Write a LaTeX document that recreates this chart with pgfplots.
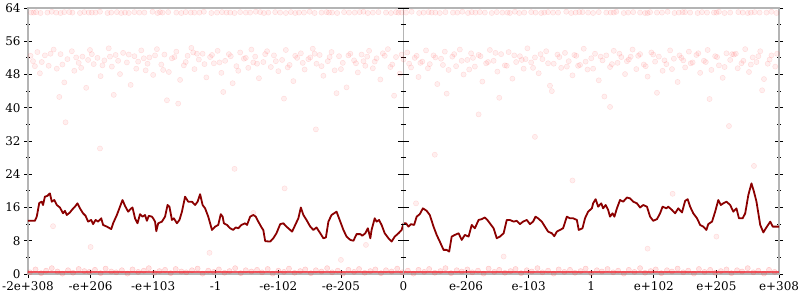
\documentclass[border=0pt]{standalone}
\usepackage{pgfplots}
\pgfplotsset{compat=1.18}
\usepackage{fontspec}
\setmainfont{DejaVu Serif}
\definecolor{linecol}{HTML}{8B0000}
\definecolor{axgray}{HTML}{B4B4B4}
\definecolor{dotred}{HTML}{FF2020}
\definecolor{bandred}{HTML}{E8303C}
\begin{document}
\begin{tikzpicture}
\useasboundingbox (-28bp,-26bp) rectangle (772bp,274bp);
\begin{axis}[
  scale only axis, width=751bp, height=266bp,
  xmin=0, xmax=12, ymin=0, ymax=64,
  xtick={0,1,2,3,4,5,6,7,8,9,10,11,12},
  xticklabels={-2e+308,-e+206,-e+103,-1,-e-102,-e-205,0,e-206,e-103,1,e+102,e+205,e+308},
  ytick={0,8,16,24,32,40,48,56,64}, minor y tick num=1,
  xtick pos=bottom, ytick pos=both,
  tick align=center,
  major tick length=8bp, minor tick length=4bp,
  axis line style={axgray, line width=1.5bp},
  tick style={black, line width=0.8bp},
  tick label style={font=\fontsize{12}{14}\selectfont},
  /pgf/number format/assume math mode=true,
  dots/.style={only marks, mark=*, mark size=2.6bp,
    mark options={draw=dotred, fill=dotred, draw opacity=0.14, fill opacity=0.07}},
  bdots/.style={only marks, mark=*, mark size=2.6bp,
    mark options={draw=dotred, fill=dotred, draw opacity=0.22, fill opacity=0.12}},
]
% top band
\addplot[dots] coordinates {
(0.05,62.9) (0.13,63.0) (0.2,62.8) (0.31,62.9) (0.38,63.1) (0.45,62.9) (0.52,62.8) (0.66,63.0) (0.71,62.9) (0.83,62.8)
(0.9,63.0) (0.97,62.9) (1.08,62.9) (1.15,63.1) (1.27,62.8) (1.33,62.9) (1.42,63.0) (1.55,62.9) (1.61,62.8) (1.7,63.0)
(1.78,62.9) (1.86,62.9) (1.99,63.1) (2.07,62.8) (2.15,62.9) (2.24,63.0) (2.37,62.9) (2.45,62.8) (2.52,63.0) (2.6,62.9)
(2.74,62.9) (2.81,63.1) (2.93,62.8) (3.02,62.9) (3.1,63.0) (3.17,62.9) (3.3,62.8) (3.39,63.0) (3.48,62.9) (3.55,62.9)
(3.64,63.1) (3.77,62.8) (3.84,62.9) (3.95,63.0) (4.03,62.9) (4.12,62.8) (4.2,63.0) (4.33,62.9) (4.41,62.9) (4.5,63.1)
(4.58,62.8) (4.69,62.9) (4.77,63.0) (4.86,62.9) (4.94,62.8) (5.05,63.0) (5.13,62.9) (5.22,62.9) (5.36,63.1) (5.43,62.8)
(5.51,62.9) (5.6,63.0) (5.72,62.9) (5.8,62.8) (5.88,63.0) (5.97,62.9) (6.04,62.9) (6.13,63.1) (6.25,62.8) (6.32,62.9)
(6.4,63.0) (6.51,62.9) (6.58,62.8) (6.67,63.0) (6.79,62.9) (6.86,62.9) (6.94,63.1) (7.03,62.8) (7.15,62.9) (7.22,63.0)
(7.3,62.9) (7.41,62.8) (7.49,63.0) (7.58,62.9) (7.66,62.9) (7.78,63.1) (7.85,62.8) (7.93,62.9) (8.04,63.0) (8.11,62.9)
(8.2,62.8) (8.31,63.0) (8.39,62.9) (8.47,62.9) (8.6,63.1) (8.68,62.8) (8.75,62.9) (8.86,63.0) (8.95,62.9) (9.03,62.8)
(9.12,63.0) (9.24,62.9) (9.31,62.9) (9.4,63.1) (9.52,62.8) (9.59,62.9) (9.67,63.0) (9.78,62.9) (9.86,62.8) (9.94,63.0)
(10.05,62.9) (10.13,62.9) (10.22,63.1) (10.33,62.8) (10.4,62.9) (10.5,63.0) (10.58,62.9) (10.7,62.8) (10.77,63.0) (10.85,62.9)
(10.96,62.9) (11.04,63.1) (11.13,62.8) (11.22,62.9) (11.35,63.0) (11.42,62.9) (11.5,62.8) (11.61,63.0) (11.69,62.9) (11.8,62.9)
(11.88,63.1) (11.96,62.8)
(0.09,62.9) (0.58,63.0) (1.02,62.9) (1.49,62.8) (2.11,63.0) (2.66,62.9) (3.23,62.9) (3.71,63.0) (4.27,62.8) (4.81,62.9)
(5.3,63.0) (5.92,62.9) (6.45,62.9) (7.09,63.0) (7.7,62.8) (8.25,62.9) (8.81,63.0) (9.36,62.9) (9.9,62.8) (10.46,63.0)
(11.0,62.9) (11.55,62.9)
};
% cloud
\addplot[dots] coordinates {
(0.08,51.2) (0.15,53.4) (0.19,48.3) (0.27,52.6) (0.33,50.1) (0.41,54.0) (0.46,49.4) (0.52,52.9) (0.58,46.1) (0.63,51.7)
(0.7,53.6) (0.74,48.9) (0.81,50.8) (0.87,52.3) (0.93,44.8) (0.99,53.9) (1.05,50.5) (1.11,52.0) (1.16,47.6) (1.22,51.4)
(1.29,54.3) (1.34,49.9) (1.4,52.7) (1.47,48.1) (1.52,53.2) (1.58,50.9) (1.64,45.5) (1.7,52.4) (1.76,51.1) (1.81,53.8)
(1.88,49.0) (1.94,52.1) (2.0,47.9) (2.06,54.1) (2.13,50.4) (2.18,52.8) (2.25,48.6) (2.3,51.9) (2.37,53.5) (2.43,46.7)
(2.49,50.2) (2.55,52.5) (2.61,54.4) (2.66,49.3) (2.73,51.6) (2.79,53.0) (2.85,47.3) (2.91,52.2) (2.97,50.7) (3.03,53.7)
(3.09,48.4) (3.15,51.3) (3.21,52.9) (3.27,45.9) (3.33,50.0) (3.39,53.3) (3.45,51.8) (3.52,49.6) (3.57,54.0) (3.63,52.3)
(3.69,47.1) (3.76,51.0) (3.82,53.6) (3.88,49.8) (3.93,52.6) (4.0,48.8) (4.06,51.5) (4.12,53.9) (4.18,50.3) (4.24,46.4)
(4.3,52.0) (4.36,53.1) (4.42,49.2) (4.48,51.7) (4.55,54.2) (4.61,50.6) (4.66,52.7) (4.72,47.7) (4.79,51.2) (4.85,53.4)
(4.9,49.0) (4.97,52.4) (5.03,50.8) (5.09,44.9) (5.15,53.0) (5.21,51.4) (5.27,48.5) (5.33,52.8) (5.39,50.1) (5.45,53.7)
(5.51,49.5) (5.57,51.9) (5.63,46.8) (5.7,52.5) (5.75,54.1) (5.82,50.4) (5.88,52.2) (5.94,48.2) (6.0,51.6)
(6.06,53.3) (6.12,49.7) (6.18,52.0) (6.24,47.4) (6.3,51.1) (6.36,53.8) (6.42,50.5) (6.48,52.6) (6.54,45.7) (6.6,51.8)
(6.66,53.5) (6.72,49.1) (6.78,52.3) (6.84,50.0) (6.9,54.0) (6.96,48.0) (7.02,51.5) (7.08,53.1) (7.14,49.9) (7.2,52.7)
(7.26,46.3) (7.32,50.7) (7.38,53.9) (7.44,51.3) (7.5,48.7) (7.56,52.9) (7.62,50.2) (7.68,53.4) (7.74,47.0) (7.8,51.0)
(7.86,52.4) (7.92,49.4) (7.98,54.3) (8.04,50.9) (8.1,52.1) (8.16,48.3) (8.22,51.7) (8.28,53.6) (8.34,45.3) (8.4,50.6)
(8.46,52.8) (8.52,49.6) (8.58,53.2) (8.64,51.2) (8.7,47.8) (8.76,52.5) (8.82,50.3) (8.88,54.2) (8.94,49.2) (9.0,51.9)
(9.06,53.0) (9.12,46.6) (9.18,51.4) (9.24,52.6) (9.3,49.8) (9.36,53.7) (9.42,50.8) (9.48,52.2) (9.54,48.1) (9.6,51.6)
(9.66,54.0) (9.72,49.3) (9.78,52.9) (9.84,50.4) (9.9,47.5) (9.96,53.3) (10.02,51.1) (10.08,52.3) (10.14,48.9) (10.2,50.5)
(10.26,53.8) (10.32,51.8) (10.38,46.2) (10.44,52.0) (10.5,49.7) (10.56,53.5) (10.62,50.9) (10.68,52.7) (10.74,48.4) (10.8,51.3)
(10.86,53.9) (10.92,49.1) (10.98,52.4) (11.04,50.2) (11.1,47.2) (11.16,53.1) (11.22,51.5) (11.28,52.8) (11.34,49.5) (11.4,50.7)
(11.46,54.1) (11.52,48.6) (11.58,52.1) (11.64,51.0) (11.7,53.6) (11.76,46.9) (11.82,50.6) (11.88,52.6) (11.94,49.9)
(0.11,50.0) (0.5,42.6) (0.96,51.5) (1.37,43.1) (1.91,50.6) (2.22,41.8) (2.7,53.0) (3.12,43.8) (3.6,50.9) (4.09,42.2)
(4.51,52.1) (4.93,43.5) (5.36,51.2) (5.85,42.9) (6.27,50.8) (6.69,43.4) (7.11,52.0) (7.53,42.4) (7.95,51.7) (8.37,44.0)
(8.79,50.1) (9.21,42.7) (9.63,52.3) (10.05,43.6) (10.47,51.4) (10.89,42.1) (11.31,53.0) (11.73,44.2)
(0.04,52.5) (0.22,51.0) (0.36,53.0) (0.55,50.4) (0.77,52.1) (0.85,49.6) (1.02,52.9) (1.19,50.2) (1.31,52.3) (1.44,51.3)
(1.61,52.8) (1.73,49.4) (1.85,51.9) (2.03,52.6) (2.16,49.1) (2.34,52.2) (2.52,51.0) (2.64,53.3) (2.82,50.5) (2.94,52.7)
(3.06,50.9) (3.24,52.4) (3.36,48.9) (3.48,52.0) (3.66,50.6) (3.79,52.9) (3.96,51.2) (4.15,49.7) (4.27,52.5) (4.39,50.8)
(4.58,53.0) (4.69,50.0) (4.82,52.2) (5.0,49.3) (5.12,52.6) (5.24,50.7) (5.42,52.3) (5.54,51.1) (5.67,53.1) (5.79,49.8)
(5.97,52.8) (6.09,50.6) (6.21,52.5) (6.39,49.5) (6.51,52.1) (6.63,50.3) (6.81,52.9) (6.93,51.3) (7.05,49.2) (7.23,52.4)
(7.35,51.0) (7.47,53.2) (7.65,50.1) (7.77,52.6) (7.89,51.5) (8.07,49.6) (8.19,52.9) (8.31,50.7) (8.49,52.2) (8.61,49.9)
(8.73,52.7) (8.91,51.1) (9.03,49.4) (9.15,52.3) (9.33,50.5) (9.45,53.0) (9.57,51.2) (9.75,52.5) (9.87,50.0) (9.99,52.8)
(10.17,51.4) (10.29,49.3) (10.41,52.6) (10.59,50.7) (10.71,53.1) (10.83,51.0) (11.01,52.2) (11.13,49.8) (11.25,52.9) (11.43,51.3)
(11.55,50.4) (11.67,52.4) (11.85,51.6) (11.97,53.0)
};
% scattered middle
\addplot[dots] coordinates {
(0.6,36.5) (1.15,30.2) (2.4,41.0) (3.3,25.3) (4.6,34.8) (5.4,7.0) (6.5,28.7) (7.2,38.4) (8.7,22.5) (9.3,40.2)
(10.3,19.3) (11.2,35.6) (11.6,26.0) (1.0,6.5) (2.9,5.1) (5.0,3.4) (7.6,4.2) (9.9,6.1) (4.1,20.6) (8.1,33.0)
(0.4,11.5) (11.0,9.0) (6.2,17.0) (3.6,14.7)
};
% bottom band
\addplot[bdots] coordinates {
(0.03,0.4) (0.12,1.1) (0.21,0.2) (0.29,0.8) (0.38,1.4) (0.47,0.6) (0.55,0.1) (0.64,0.9) (0.72,0.3) (0.81,1.2)
(0.9,0.7) (0.98,0.5) (1.07,1.0) (1.16,0.2) (1.24,1.3) (1.33,0.6) (1.41,0.4) (1.5,0.9) (1.59,0.1) (1.67,1.1)
(1.76,0.5) (1.85,0.8) (1.93,1.4) (2.02,0.3) (2.1,0.7) (2.19,1.0) (2.28,0.2) (2.36,1.2) (2.45,0.6) (2.53,0.4)
(2.62,0.9) (2.71,1.3) (2.79,0.1) (2.88,0.8) (2.97,0.5) (3.05,1.1) (3.14,0.3) (3.22,0.7) (3.31,1.4) (3.4,0.2)
(3.48,0.9) (3.57,0.6) (3.66,1.0) (3.74,0.4) (3.83,1.2) (3.91,0.1) (4.0,0.8) (4.09,0.5) (4.17,1.3) (4.26,0.3)
(4.35,0.7) (4.43,1.1) (4.52,0.2) (4.6,0.9) (4.69,0.6) (4.78,1.4) (4.86,0.4) (4.95,0.8) (5.03,0.1) (5.12,1.0)
(5.21,0.5) (5.29,1.2) (5.38,0.3) (5.47,0.7) (5.55,1.1) (5.64,0.2) (5.72,0.9) (5.81,0.6) (5.9,1.3) (5.98,0.4)
(6.07,0.8) (6.16,0.1) (6.24,1.0) (6.33,0.5) (6.41,1.2) (6.5,0.3) (6.59,0.7) (6.67,1.4) (6.76,0.2) (6.85,0.9)
(6.93,0.6) (7.02,1.1) (7.1,0.4) (7.19,0.8) (7.28,0.1) (7.36,1.3) (7.45,0.5) (7.53,1.0) (7.62,0.3) (7.71,0.7)
(7.79,1.2) (7.88,0.2) (7.97,0.9) (8.05,0.6) (8.14,1.4) (8.22,0.4) (8.31,0.8) (8.4,0.1) (8.48,1.1) (8.57,0.5)
(8.66,1.0) (8.74,0.3) (8.83,0.7) (8.91,1.3) (9.0,0.2) (9.09,0.9) (9.17,0.6) (9.26,1.2) (9.35,0.4) (9.43,0.8)
(9.52,0.1) (9.6,1.0) (9.69,0.5) (9.78,1.4) (9.86,0.3) (9.95,0.7) (10.03,1.1) (10.12,0.2) (10.21,0.9) (10.29,0.6)
(10.38,1.3) (10.47,0.4) (10.55,0.8) (10.64,0.1) (10.72,1.2) (10.81,0.5) (10.9,1.0) (10.98,0.3) (11.07,0.7) (11.16,1.1)
(11.24,0.2) (11.33,0.9) (11.41,0.6) (11.5,1.4) (11.59,0.4) (11.67,0.8) (11.76,0.1) (11.84,1.0) (11.93,0.5)
};
\addplot[bandred, opacity=0.8, line width=2.5bp] coordinates {(0,0.45) (12,0.45)};
% main line
\addplot[linecol, line width=1.8bp, line join=round] coordinates {
(0,12.8) (0.11,12.8) (0.14,13.8) (0.18,17.1) (0.22,17.4) (0.24,16.6) (0.27,18.6) (0.31,18.8) (0.35,19.4) (0.38,17.4)
(0.42,17.8) (0.46,16.6) (0.51,16.0) (0.56,14.6) (0.59,15.2) (0.62,14.2) (0.67,14.8) (0.70,15.4) (0.75,16.2) (0.79,17.0)
(0.83,15.8) (0.88,14.6) (0.92,14.0) (0.96,12.6) (1.01,13.0) (1.04,12.0) (1.08,13.0) (1.12,12.6) (1.17,13.4) (1.20,11.8)
(1.26,11.4) (1.33,10.8) (1.36,12.2) (1.42,14.2) (1.47,16.2) (1.51,17.8) (1.55,16.4) (1.60,15.0) (1.65,15.8) (1.67,16.0)
(1.71,13.4) (1.75,12.2) (1.79,14.4) (1.83,13.8) (1.87,14.2) (1.90,12.8) (1.93,14.0) (1.98,13.8) (2.00,13.4) (2.03,12.6)
(2.05,10.3) (2.08,12.2) (2.14,12.6) (2.19,13.8) (2.23,16.6) (2.26,16.2) (2.30,13.0) (2.33,13.4) (2.38,12.2) (2.42,13.0)
(2.46,15.0) (2.51,18.6) (2.56,17.4) (2.62,17.4) (2.67,16.6) (2.71,17.4) (2.75,19.2) (2.79,16.6) (2.83,15.8) (2.88,13.8)
(2.94,10.6) (2.99,11.4) (3.04,11.8) (3.08,14.4) (3.11,13.8) (3.13,12.2) (3.18,11.8) (3.23,11.0) (3.28,10.6) (3.32,11.2)
(3.36,11.0) (3.41,11.8) (3.47,12.2) (3.50,11.8) (3.55,13.8) (3.60,14.2) (3.64,13.8) (3.68,12.6) (3.74,11.0) (3.76,10.6)
(3.79,7.9) (3.87,7.8) (3.92,8.6) (3.97,9.8) (4.03,12.0) (4.08,12.2) (4.13,11.4) (4.19,10.6) (4.22,10.2) (4.27,11.8)
(4.32,13.4) (4.36,16.0) (4.40,14.2) (4.45,13.0) (4.51,11.4) (4.56,10.6) (4.61,11.2) (4.67,9.8) (4.72,8.6) (4.76,8.8)
(4.80,12.6) (4.85,14.2) (4.91,14.8) (4.93,15.0) (4.99,12.6) (5.04,10.6) (5.09,9.0) (5.15,8.2) (5.20,8.0) (5.25,9.6)
(5.31,9.6) (5.34,9.2) (5.39,9.8) (5.43,11.0) (5.47,8.6) (5.49,10.6) (5.54,13.4) (5.57,12.6) (5.61,13.0) (5.65,11.8)
(5.70,9.8) (5.76,8.6) (5.81,7.8) (5.86,9.0) (5.92,9.8) (5.97,10.6) (6.00,12.2) (6.04,12.2) (6.08,11.4) (6.12,12.0)
(6.17,11.8) (6.21,13.8) (6.26,14.4) (6.31,15.8) (6.37,15.2) (6.42,14.2) (6.48,11.4) (6.53,9.4) (6.58,7.8) (6.64,5.8)
(6.69,5.8) (6.73,5.4) (6.77,9.0) (6.82,9.4) (6.88,9.8) (6.93,8.2) (6.98,9.4) (7.04,9.0) (7.09,11.8) (7.14,11.0)
(7.20,13.0) (7.25,13.2) (7.30,13.6) (7.34,13.0) (7.38,12.2) (7.44,11.0) (7.49,8.6) (7.54,9.0) (7.60,9.8) (7.65,13.0)
(7.70,13.0) (7.76,12.6) (7.81,12.8) (7.86,12.0) (7.91,12.6) (7.97,13.0) (8.02,12.0) (8.07,12.6) (8.11,13.8) (8.15,13.4)
(8.21,12.6) (8.26,11.4) (8.31,10.2) (8.37,9.8) (8.41,9.1) (8.45,10.2) (8.50,10.6) (8.55,11.0) (8.61,13.8) (8.66,13.4)
(8.71,13.4) (8.77,13.0) (8.80,10.6) (8.86,11.0) (8.90,13.4) (8.95,15.0) (9.01,15.8) (9.03,17.0) (9.07,18.0) (9.11,16.2)
(9.16,17.0) (9.19,15.8) (9.23,16.6) (9.27,15.4) (9.30,13.8) (9.34,14.6) (9.37,13.8) (9.41,15.8) (9.46,17.8) (9.51,17.4)
(9.57,18.4) (9.62,18.2) (9.67,17.4) (9.73,17.0) (9.78,16.0) (9.83,16.6) (9.89,16.2) (9.94,13.8) (9.99,12.8) (10.05,13.2)
(10.10,14.6) (10.14,16.2) (10.20,15.8) (10.23,16.2) (10.29,15.4) (10.34,14.6) (10.39,15.8) (10.45,14.8) (10.50,17.6) (10.54,18.0)
(10.58,16.2) (10.63,14.6) (10.69,13.4) (10.74,11.8) (10.79,11.4) (10.84,10.6) (10.87,12.0) (10.93,12.6) (10.98,15.0) (11.03,17.8)
(11.07,16.6) (11.11,17.0) (11.16,17.4) (11.22,16.6) (11.27,15.0) (11.32,15.8) (11.36,13.4) (11.42,13.4) (11.46,14.6) (11.51,19.0)
(11.56,21.8) (11.60,19.8) (11.64,17.4) (11.70,11.8) (11.75,10.0) (11.79,11.0) (11.86,12.6) (11.90,11.4) (12.00,11.4)
};
% centre axis line with its ticks
\draw[axgray, line width=1.5bp] (axis cs:6,0) -- (axis cs:6,64);
\pgfplotsinvokeforeach{0,8,16,24,32,40,48,56,64}{
  \draw[black, line width=0.8bp] ([xshift=-5.5bp]axis cs:6,#1) -- ([xshift=5.5bp]axis cs:6,#1);}
\pgfplotsinvokeforeach{4,12,20,28,36,44,52,60}{
  \draw[black, line width=0.8bp] ([xshift=-2.7bp]axis cs:6,#1) -- ([xshift=2.7bp]axis cs:6,#1);}
\end{axis}
\end{tikzpicture}
\end{document}
